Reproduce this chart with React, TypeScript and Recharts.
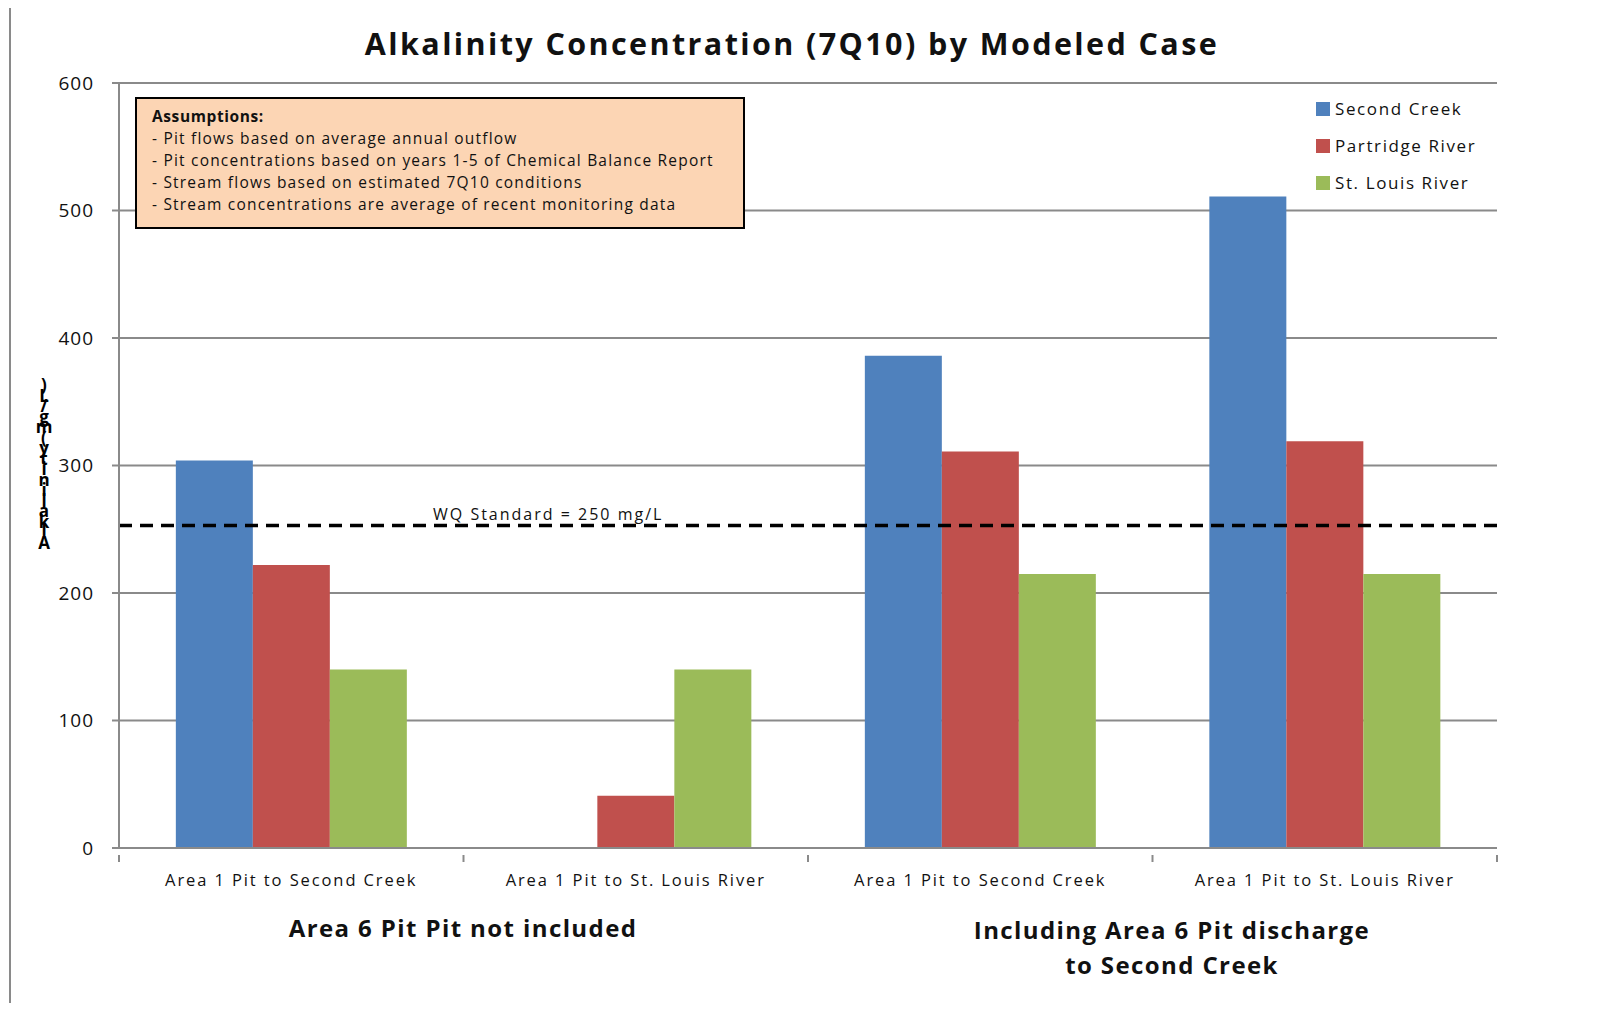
import React from 'react';
import { BarChart, Bar, XAxis, YAxis, CartesianGrid, ReferenceLine } from 'recharts';

const categories = ['Area 1 Pit to Second Creek', 'Area 1 Pit to St. Louis River', 'Area 1 Pit to Second Creek', 'Area 1 Pit to St. Louis River'];
const secondCreek = [304, 0, 386, 511];
const partridgeRiver = [222, 41, 311, 319];
const stLouisRiver = [140, 140, 215, 215];
const yTicks = [0, 100, 200, 300, 400, 500, 600];
const wqStandard = 253;
const wqLabel = 'WQ Standard = 250 mg/L';
const title = 'Alkalinity Concentration (7Q10) by Modeled Case';
const yLabel = 'Alkalinity (mg/L)';
const groupLabels = [['Area 6 Pit Pit not included'], ['Including Area 6 Pit discharge', 'to Second Creek']];
const assumptions = [
  'Assumptions:',
  '- Pit flows based on average annual outflow',
  '- Pit concentrations  based on years 1-5 of Chemical Balance Report',
  '- Stream flows based on estimated 7Q10 conditions',
  '- Stream concentrations are average of recent monitoring data',
];
const seriesNames = ['Second Creek', 'Partridge River', 'St. Louis River'];
const colors = ['#4F81BD', '#C0504D', '#9BBB59'];

const data = categories.map((c, i) => ({
  cat: `${i}`,
  label: c,
  s0: secondCreek[i],
  s1: partridgeRiver[i],
  s2: stLouisRiver[i],
}));

const FONT = '"Open Sans", sans-serif';
const GRAY = '#8a8a8a';
const PLOT_W = 1378;

const XTick = (props: any) => {
  const { x, y, payload, index } = props;
  const band = PLOT_W / categories.length;
  const idx = typeof index === 'number' ? index : Number(payload.value);
  const left = x - band / 2;
  const right = x + band / 2;
  return (
    <g>
      <line x1={left} x2={left} y1={y - 1} y2={y + 6} stroke={GRAY} strokeWidth={2} />
      {idx === categories.length - 1 && (
        <line x1={right} x2={right} y1={y - 1} y2={y + 6} stroke={GRAY} strokeWidth={2} />
      )}
      <text x={x} y={y + 30} textAnchor="middle" fontFamily={FONT} fontSize={16.5} letterSpacing={1.9} fill="#111">
        {categories[idx]}
      </text>
    </g>
  );
};

const WqLabel = (props: any) => {
  const vb = props.viewBox || {};
  return (
    <text x={vb.x + 314} y={vb.y - 5} fontFamily={FONT} fontSize={16} letterSpacing={2} fill="#111">
      {wqLabel}
    </text>
  );
};

export default function App() {
  const yChars = yLabel.replace(/\s/g, '').split('').reverse();
  return (
    <div style={{ position: 'relative', width: 1606, height: 1027, margin: '-8px 0 0 -8px', background: '#fff', overflow: 'hidden' }}>
      <div style={{ position: 'absolute', left: 9, top: 3, width: 1600, height: 998, borderTop: `2px solid ${GRAY}`, borderLeft: `2px solid ${GRAY}` }} />
      <div style={{ position: 'absolute', left: 0, top: 22, width: 1584, textAlign: 'center', fontFamily: FONT, fontWeight: 700, fontSize: 30.5, letterSpacing: 2.4, color: '#111' }}>
        {title}
      </div>
      <div style={{ position: 'absolute', left: 0, top: 0 }}>
        <BarChart
          width={1606}
          height={1027}
          data={data}
          margin={{ top: 83, right: 109, bottom: 139, left: 59 }}
          barCategoryGap="16.5%"
          barGap={0}
        >
          <CartesianGrid vertical={false} stroke={GRAY} strokeWidth={2} />
          <XAxis
            dataKey="cat"
            interval={0}
            tickLine={false}
            axisLine={{ stroke: GRAY, strokeWidth: 2 }}
            tick={<XTick />}
            height={40}
          />
          <YAxis
            domain={[0, 600]}
            ticks={yTicks}
            interval={0}
            width={60}
            axisLine={{ stroke: GRAY, strokeWidth: 2 }}
            tickLine={{ stroke: GRAY, strokeWidth: 2 }}
            tickSize={7}
            tickMargin={18}
            tick={{ fontFamily: FONT, fontSize: 19, fill: '#111', letterSpacing: 1 }}
          />
          <Bar dataKey="s0" name={seriesNames[0]} fill={colors[0]} isAnimationActive={false} />
          <Bar dataKey="s1" name={seriesNames[1]} fill={colors[1]} isAnimationActive={false} />
          <Bar dataKey="s2" name={seriesNames[2]} fill={colors[2]} isAnimationActive={false} />
          <ReferenceLine y={wqStandard} stroke="#000" strokeWidth={3.5} strokeDasharray="13 8" label={<WqLabel />} />
        </BarChart>
      </div>
      <div style={{ position: 'absolute', left: 1316, top: 90, fontFamily: FONT }}>
        {seriesNames.map((n, i) => (
          <div key={i} style={{ display: 'flex', alignItems: 'center', height: 37, fontSize: 17, letterSpacing: 1.6, color: '#111' }}>
            <span style={{ display: 'inline-block', width: 14, height: 14, background: colors[i], marginRight: 5 }} />
            {n}
          </div>
        ))}
      </div>
      <div style={{ position: 'absolute', left: 135, top: 97, width: 610, height: 132, boxSizing: 'border-box', background: '#FCD5B4', border: '2px solid #000', fontFamily: FONT, fontSize: 15.5, letterSpacing: 1.2, color: '#111', padding: '6px 0 0 15px', lineHeight: '22px', whiteSpace: 'nowrap' }}>
        {assumptions.map((a, i) => (
          <div key={i} style={{ fontWeight: i === 0 ? 700 : 400, letterSpacing: i === 0 ? 0.6 : undefined }}>{a}</div>
        ))}
      </div>
      <div style={{ position: 'absolute', left: 32, top: 380, width: 24, display: 'flex', flexDirection: 'column', alignItems: 'center', fontFamily: FONT, fontWeight: 700, fontSize: 17, color: '#000' }}>
        {yChars.map((c, i) => (
          <span key={i} style={{ lineHeight: '10.5px', height: 10.5 }}>{c}</span>
        ))}
      </div>
      <div style={{ position: 'absolute', left: 263, top: 910, width: 400, textAlign: 'center', fontFamily: FONT, fontWeight: 700, fontSize: 24, letterSpacing: 1.4, color: '#111', lineHeight: '35px' }}>
        {groupLabels[0].map((l, i) => <div key={i}>{l}</div>)}
      </div>
      <div style={{ position: 'absolute', left: 922, top: 912, width: 500, textAlign: 'center', fontFamily: FONT, fontWeight: 700, fontSize: 24, letterSpacing: 1.4, color: '#111', lineHeight: '35px' }}>
        {groupLabels[1].map((l, i) => <div key={i}>{l}</div>)}
      </div>
    </div>
  );
}
